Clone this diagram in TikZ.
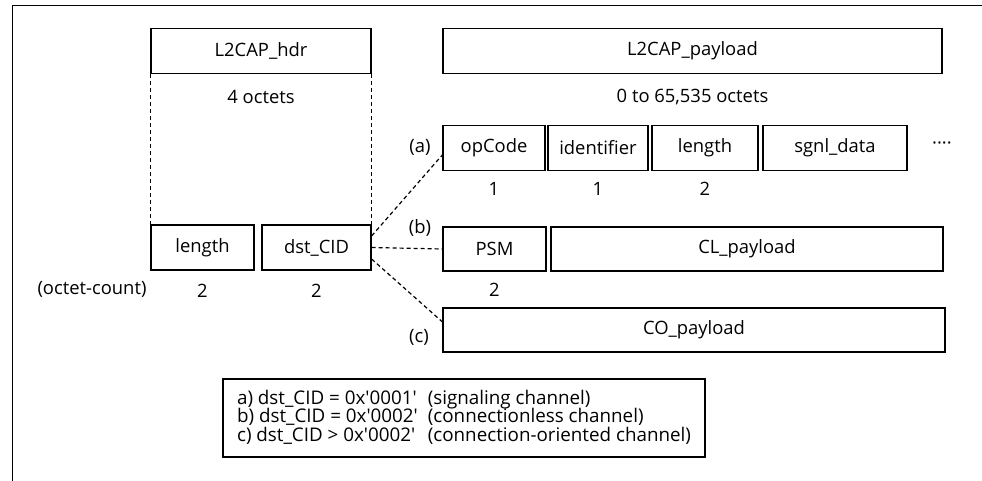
\documentclass[tikz,border=0pt]{standalone}
\usepackage{fontspec}
\setmainfont{Open Sans}
\usetikzlibrary{calc, positioning}
\tikzset{
    field/.style={draw, line width=0.7pt, minimum height=22.5pt, inner sep=0pt},
    expandLine/.style={line width=0.6pt, dash pattern=on 2pt off 1.5pt},
    tapLine/.style={line width=0.6pt, dash pattern=on 2pt off 1.5pt},
    frameLine/.style={line width=0.5pt},
    keyBox/.style={draw, line width=0.6pt, minimum width=241pt, minimum height=39pt, inner sep=0pt, font=\fontsize{9.4}{7.5}\selectfont},
}
\newcommand{\tq}{\textquotesingle}
\newcommand{\drawTap}[3]{
    % dashed tap from dst_CID to the first field of a payload variant
    \draw[tapLine] ($(dstCid.north east)!#1!(dstCid.south east)$) -- ($(#2.north west)!#3!(#2.south west)$);
}

\begin{document}
\begin{tikzpicture}[x=0.5pt, y=-0.5pt, font=\fontsize{9.2}{11}\selectfont, label distance=1.8pt]
    \useasboundingbox (0,0) rectangle (982,481);
    \draw[frameLine] (982,6) -- (12,6) -- (12,481);

    % header and payload
    \node[field, minimum width=110pt] (hdr) at (261,51) {L2CAP\_hdr};
    \node[field, minimum width=249.5pt] (payload) at (692.5,51) {L2CAP\_payload};
    \node (hdrSize) at (261,97) {4 octets};
    \node (paySize) at (692.5,97) {0 to 65,535 octets};

    % header fields
    \node[field, minimum width=51.5pt, label={[label distance=3.3pt]below:2}] (hdrLen) at (202.5,247.5) {length};
    \node[field, minimum width=54.5pt, label={[label distance=3.3pt]below:2}] (dstCid) at (316.5,247.5) {dst\_CID};
    \node (octCount) at (92,289) {(octet-count)};
    \draw[expandLine] (hdr.south west) -- (hdrLen.north west);
    \draw[expandLine] (hdr.south east) -- (dstCid.north east);

    % (a) signaling
    \node[field, minimum width=51pt, label=below:1] (opCode) at (494,148) {opCode};
    \node[field, minimum width=50pt, label=below:1] (ident) at (598,148) {identifier};
    \node[field, minimum width=53pt, label=below:2] (sigLen) at (705,148) {length};
    \node[field, minimum width=72pt] (sgnlData) at (835,148) {sgnl\_data};
    \node (more) at (942,146) {····};

    % (b) connectionless
    \node[field, minimum width=51.5pt, minimum height=22pt, label={[label distance=2.2pt]below:2}] (psm) at (494.5,249) {PSM};
    \node[field, minimum width=196pt, minimum height=22pt] (clPay) at (747,249) {CL\_payload};

    % (c) connection-oriented
    \node[field, minimum width=251pt, minimum height=22pt] (coPay) at (694,330) {CO\_payload};

    \node (tagA) at (420,147) {(a)};
    \node (tagB) at (420,228) {(b)};
    \node (tagC) at (419,337) {(c)};

    \drawTap{0.25}{opCode}{0.65}
    \drawTap{0.5}{psm}{0.5}
    \drawTap{0.75}{coPay}{0.32}

    % key
    \node[keyBox] (key) at (464,418) {%
        \begin{tabular}{@{}l@{\hspace{5pt}}l@{}}
        a) dst\_CID = 0x\tq0001\tq & (signaling channel)\\
        b) dst\_CID = 0x\tq0002\tq & (connectionless channel)\\
        c) dst\_CID > 0x\tq0002\tq & (connection-oriented channel)
        \end{tabular}};

\end{tikzpicture}
\end{document}
